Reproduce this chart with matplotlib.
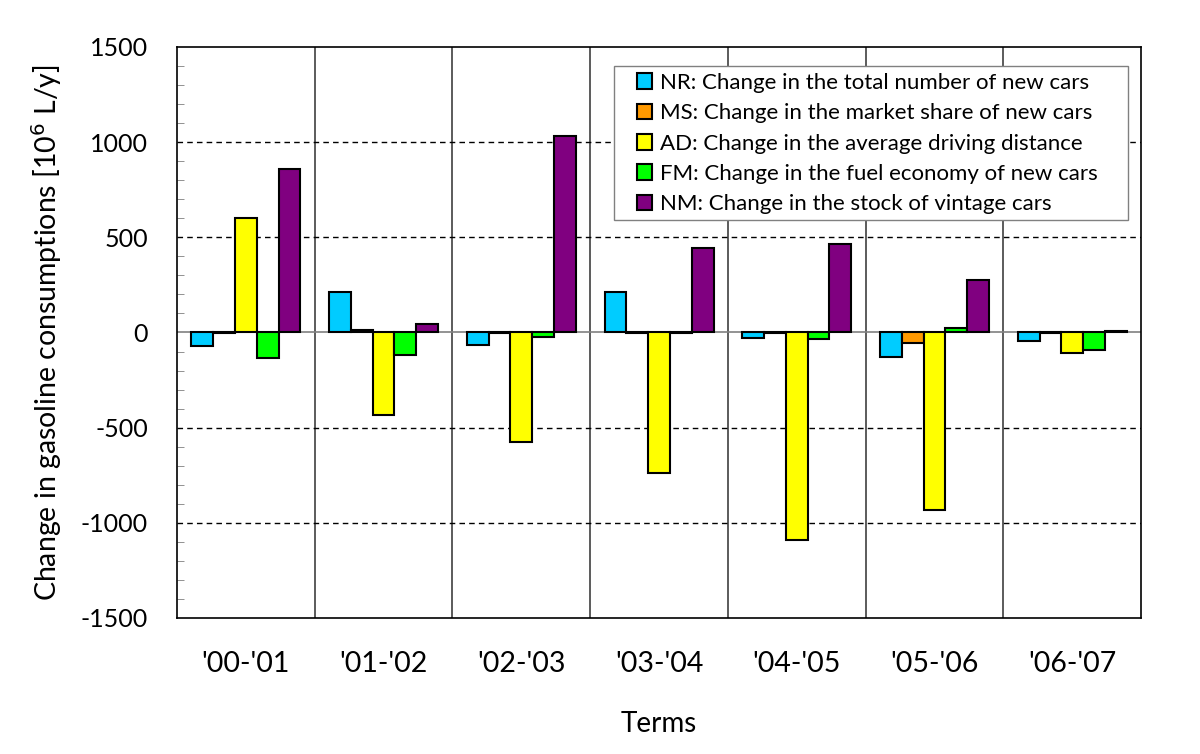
import numpy as np
import matplotlib
matplotlib.use('Agg')
import matplotlib.pyplot as plt
from matplotlib.ticker import MultipleLocator
from matplotlib.patches import Rectangle

plt.rcParams['font.family'] = ['Lato', 'DejaVu Sans']
plt.rcParams['axes.unicode_minus'] = False

# Terms on the x axis
terms = ["'00-'01", "'01-'02", "'02-'03", "'03-'04", "'04-'05", "'05-'06", "'06-'07"]

# Decomposition factors [10^6 L/y]
nr = [-70, 214, -68, 215, -28, -131, -47]
ms = [-5, 12, -3, -5, -3, -54, -3]
ad = [600, -434, -574, -738, -1088, -934, -107]
fm = [-135, -119, -26, -5, -35, 23, -91]
nm = [859, 47, 1031, 442, 465, 275, 10]

labels = ['NR: Change in the total number of new cars',
          'MS: Change in the market share of new cars',
          'AD: Change in the average driving distance',
          'FM: Change in the fuel economy of new cars',
          'NM: Change in the stock of vintage cars']
colors = ['#00CCFF', '#FF9900', '#FFFF00', '#00FF00', '#800080']

fig = plt.figure(figsize=(12, 7.54), dpi=100)
ax = fig.add_axes([0.1475, 0.1804, 0.8035, 0.7573])

x = np.arange(len(terms))
w = 0.158
for j, (vals, c, lab) in enumerate(zip([nr, ms, ad, fm, nm], colors, labels)):
    ax.bar(x + (j - 2) * w, vals, w, color=c, edgecolor='black', linewidth=1.5, label=lab, zorder=3)

# separators between terms
for b in np.arange(0.5, len(terms) - 1, 1):
    ax.axvline(b, color='#404040', linewidth=1.2, zorder=1)
for yv in [-1000, -500, 500, 1000]:
    ax.axhline(yv, color='black', linestyle=(0, (4, 3)), linewidth=1.0, zorder=1)
ax.axhline(0, color='#808080', linewidth=1.2, zorder=2)

ax.set_xlim(-0.5, len(terms) - 0.5)
ax.set_ylim(-1500, 1500)
ax.yaxis.set_major_locator(MultipleLocator(500))
ax.yaxis.set_minor_locator(MultipleLocator(100))
ax.tick_params(axis='y', which='both', direction='in', labelsize=18)
ax.tick_params(axis='y', which='major', length=0, pad=21)
ax.tick_params(axis='y', which='minor', length=5, color='#808080')
ax.set_xticks(x)
ax.set_xticklabels(terms, fontsize=20.5)
ax.tick_params(axis='x', length=0, pad=24)
for s in ax.spines.values():
    s.set_linewidth(1.2)

ax.set_xlabel('Terms', fontsize=20, labelpad=24)
ax.set_ylabel('Change in gasoline consumptions [10$^{6}$ L/y]', fontsize=20.5, labelpad=12)

# legend frame drawn separately (wider side padding than matplotlib allows)
ax.add_patch(Rectangle((0.4533, 0.697), 0.5332, 0.270, transform=ax.transAxes,
                       facecolor='white', edgecolor='#808080', linewidth=1.0, zorder=5))
leg = ax.legend(loc='upper left', bbox_to_anchor=(0.477, 0.955), fontsize=16,
                frameon=False, handlelength=0.7, handleheight=0.7, handletextpad=0.35,
                labelspacing=0.47, borderpad=0.0, borderaxespad=0.0)
leg.set_zorder(6)

fig.savefig('out.png', dpi=100)
